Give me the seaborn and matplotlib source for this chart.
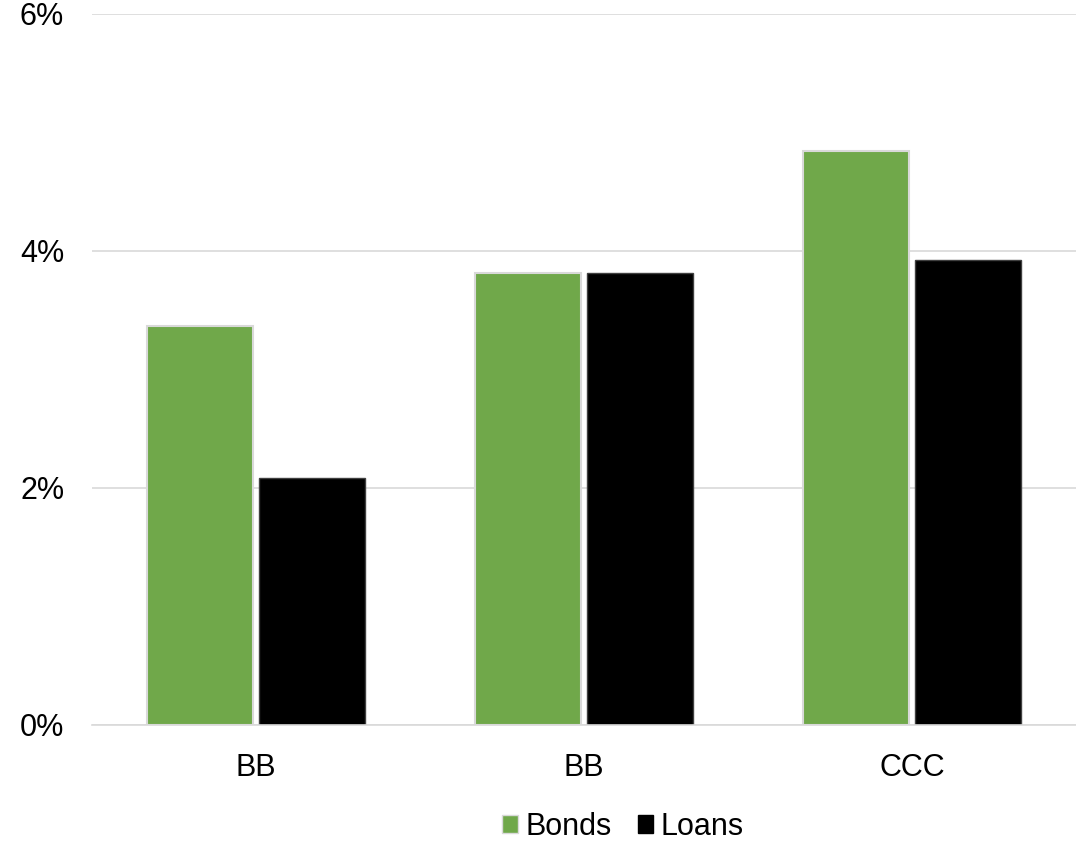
import seaborn as sns
import matplotlib.pyplot as plt
import pandas as pd
from matplotlib.ticker import PercentFormatter
from matplotlib.patches import Patch

categories = ["BB", "BB", "CCC"]
bonds = [3.37, 3.81, 4.84]
loans = [2.08, 3.81, 3.92]

slots = [f"g{i}" for i in range(len(categories))]
df = pd.DataFrame({
    "slot": slots * 2,
    "series": ["Bonds"] * 3 + ["Loans"] * 3,
    "value": bonds + loans,
})

sns.set_style("white")
plt.rcParams["font.family"] = ["Liberation Sans", "DejaVu Sans"]

colors = {"Bonds": "#70A84A", "Loans": "#000000"}

fig = plt.figure(figsize=(10.76, 8.42), dpi=100)
ax = fig.add_axes([0.0855, 0.139, 0.9145, 0.8444])

sns.barplot(data=df, x="slot", y="value", hue="series", order=slots,
            palette=colors, saturation=1, width=0.683, gap=0.045, ax=ax,
            edgecolor="#D9D9D9", linewidth=1.5, legend=False)

# loans bars have a dark, barely visible outline
for bar in ax.containers[1]:
    bar.set_edgecolor("#404040")
    bar.set_linewidth(1.0)

ax.set_ylim(0, 6)
ax.set_xlim(-0.5, 2.5)
ax.set_yticks([0, 2, 4, 6])
ax.yaxis.set_major_formatter(PercentFormatter(decimals=0))
ax.set_xticks(range(3))
ax.set_xticklabels(categories)
ax.grid(axis="y", color="#D9D9D9", linewidth=1.2)
ax.set_axisbelow(True)
for s in ["top", "right", "left"]:
    ax.spines[s].set_visible(False)
ax.spines["bottom"].set_color("#D9D9D9")
ax.spines["bottom"].set_linewidth(1.2)
ax.tick_params(axis="both", length=0, labelsize=22, colors="black")
ax.tick_params(axis="x", pad=20)
ax.tick_params(axis="y", pad=20)
ax.set_xlabel("")
ax.set_ylabel("")

handles = [Patch(facecolor=colors["Bonds"], edgecolor="#D9D9D9"),
           Patch(facecolor=colors["Loans"], edgecolor="#000000")]
fig.legend(handles, ["Bonds", "Loans"], loc="center", bbox_to_anchor=(0.579, 0.018),
           ncol=2, frameon=False, fontsize=22, labelcolor="black",
           handlelength=0.5, handleheight=0.5, handletextpad=0.25,
           columnspacing=0.85)

fig.savefig("out.png", dpi=100)
